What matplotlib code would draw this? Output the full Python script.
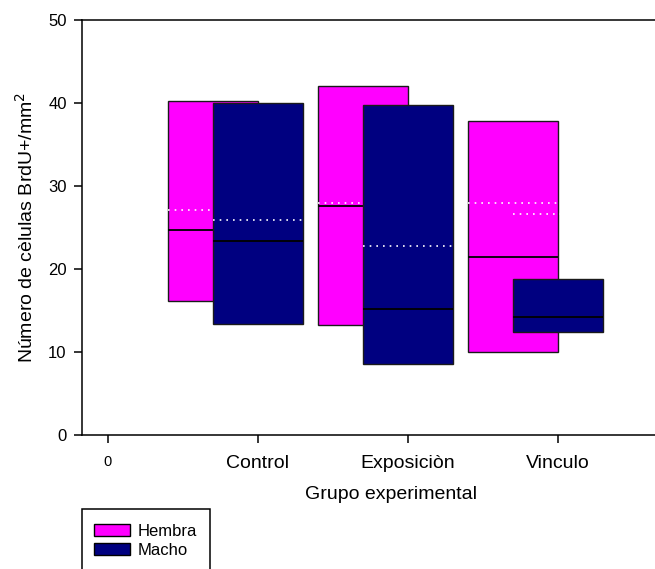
import matplotlib
matplotlib.use("Agg")
import matplotlib.pyplot as plt
from matplotlib.patches import Patch, Rectangle

plt.rcParams['font.family'] = ['Liberation Sans', 'DejaVu Sans']

groups = ['Control', 'Exposiciòn', 'Vinculo']
group_pos = [1, 2, 3]

# Hembra boxes: 25th, 75th percentile, median, mean
hembra_low = [16.2, 13.2, 10.0]
hembra_high = [40.3, 42.0, 37.8]
hembra_median = [24.7, 27.6, 21.4]
hembra_mean = [27.1, 28.0, 27.9]

# Macho boxes
macho_low = [13.4, 8.5, 12.4]
macho_high = [40.0, 39.8, 18.8]
macho_median = [23.4, 15.2, 14.2]
macho_mean = [25.9, 22.8, 26.6]

W, H = 655, 569
fig = plt.figure(figsize=(W / 100, H / 100), dpi=100)
left, right, top, bottom = 82, 700, 20, 435
ax = fig.add_axes([left / W, 1 - bottom / H, (right - left) / W, (bottom - top) / H])

bw = 0.6
edge = '#1a1a1a'

# hembra (behind)
hx = [p - 0.3 for p in group_pos]
ax.bar(hx, [h - l for h, l in zip(hembra_high, hembra_low)], bottom=hembra_low,
       width=bw, color='#ff00ff', edgecolor=edge, linewidth=1, zorder=2)
for i, x in enumerate(hx):
    ax.hlines(hembra_median[i], x - bw / 2, x + bw / 2, color='black', lw=1.3, zorder=3)
    ax.hlines(hembra_mean[i], x - bw / 2, x + bw / 2, color='white', lw=1.2,
              linestyles=(0, (1, 3)), zorder=3)

# macho (front)
mx = group_pos
ax.bar(mx, [h - l for h, l in zip(macho_high, macho_low)], bottom=macho_low,
       width=bw, color='#000080', edgecolor=edge, linewidth=1, zorder=4)
for i, x in enumerate(mx):
    ax.hlines(macho_median[i], x - bw / 2, x + bw / 2, color='black', lw=1.3, zorder=5)
    ax.hlines(macho_mean[i], x - bw / 2, x + bw / 2, color='white', lw=1.2,
              linestyles=(0, (1, 3)), zorder=5)

ax.set_xlim(-0.173, (right - 108) / 150)
ax.set_ylim(0, 50)
ax.set_yticks([0, 10, 20, 30, 40, 50])
ax.set_xticks([0] + group_pos)
ax.set_xticklabels(['0'] + groups)

for s in ax.spines.values():
    s.set_linewidth(1.1)
ax.spines['right'].set_visible(False)

ax.tick_params(axis='y', direction='out', length=6, width=1.1, labelsize=12, pad=5)
ax.tick_params(axis='x', direction='out', length=6, width=1.1, labelsize=14, pad=8.5)
ax.get_xticklabels()[0].set_fontsize(10.5)

ax.set_ylabel('Número de cèlulas BrdU+/mm$^2$', fontsize=14, labelpad=8)
ax.set_xlabel('Grupo experimental', fontsize=14, labelpad=10)

# legend frame runs off the bottom of the picture, like the original
fig.patches.append(Rectangle((82 / W, -20 / H), 128 / W, (H - 509 + 20) / H,
                             transform=fig.transFigure, fill=False,
                             edgecolor='black', linewidth=1.1))
handles = [Patch(facecolor='#ff00ff', edgecolor='black', label='Hembra'),
           Patch(facecolor='#000080', edgecolor='black', label='Macho')]
leg = fig.legend(handles=handles, loc='upper left',
                 bbox_to_anchor=(82 / W, 1 - 512 / H), borderaxespad=0,
                 fontsize=12, frameon=False,
                 handlelength=2.2, handleheight=0.75, handletextpad=0.45,
                 labelspacing=0.25, borderpad=0.7)

fig.savefig('out.png', dpi=100)
